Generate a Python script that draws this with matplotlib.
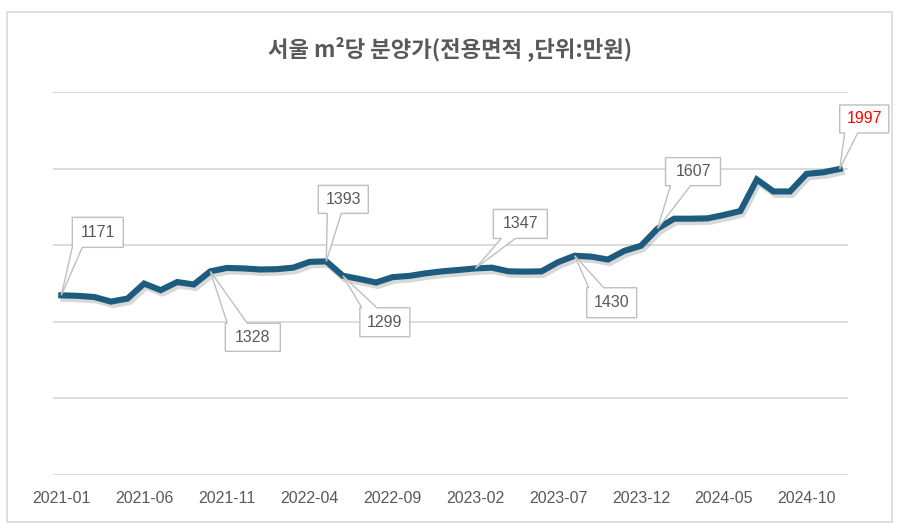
import matplotlib
matplotlib.use('Agg')
import matplotlib.pyplot as plt
import matplotlib.patheffects as pe
from matplotlib.patches import Polygon, Rectangle
from matplotlib.transforms import IdentityTransform

plt.rcParams['font.family'] = ['Noto Sans CJK KR', 'DejaVu Sans']

# 월별 분양가 (2021-01 ~ 2024-12)
months = [f'{y}-{m:02d}' for y in range(2021, 2025) for m in range(1, 13)]
price = [1171, 1168, 1160, 1130, 1150, 1248, 1205, 1258, 1242, 1328,
         1350, 1347, 1340, 1342, 1352, 1390, 1393, 1299, 1278, 1255,
         1290, 1298, 1315, 1328, 1337, 1347, 1352, 1328, 1326, 1328,
         1388, 1430, 1424, 1405, 1462, 1495, 1607, 1672, 1672, 1674,
         1696, 1722, 1928, 1850, 1850, 1965, 1975, 1997]
label_idx = [0, 9, 16, 17, 25, 31, 36, 47]
title = '서울 m²당 분양가(전용면적 ,단위:만원)'

# 말풍선 배치 (dx, dy, w, h, 꼬리 방향, 꼬리 시작, 꼬리 끝) - 픽셀
callouts = {
    0: (36.5, 63, 51, 30, 'bottom', 0, 10),
    9: (42.5, -66, 55, 28, 'top', 2, 22),
    16: (17, 62, 50, 28, 'bottom', 9, 23),
    17: (42, -46.5, 50, 29, 'top', 2, 17),
    25: (45, 44.5, 54, 29, 'bottom', 8, 22),
    31: (37, -47, 50, 30, 'top', 2, 17),
    36: (35.5, 57, 55, 28, 'bottom', 5, 25),
    47: (24.5, 50, 49, 28, 'bottom', 5, 18),
}

gray = '#595959'
grid_c = '#d9d9d9'
line_c = '#1d5c7e'
num_font = ['Liberation Sans', 'DejaVu Sans']

fig = plt.figure(figsize=(9, 5.3), dpi=100)
fig.add_artist(Rectangle((0.0078, 0.015), 0.983, 0.962, transform=fig.transFigure,
                         fill=False, edgecolor=grid_c, lw=1.2))
fig.text(0.5, 0.908, title, ha='center', va='center', fontsize=16,
         fontweight='bold', color=gray)

ax = fig.add_axes([0.0589, 0.1047, 0.8833, 0.7217])
x = list(range(len(price)))
ax.plot(x, price, color=line_c, lw=4.4, solid_joinstyle='miter', zorder=3,
        path_effects=[pe.SimpleLineShadow(offset=(1.5, -2.5), shadow_color='gray', alpha=0.3),
                      pe.Normal()])
ax.set_xlim(-0.5, len(price) - 0.5)
ax.set_ylim(0, 2500)
ax.set_yticks(range(0, 2501, 500))
ax.yaxis.grid(True, color=grid_c, lw=1.3)
ax.tick_params(axis='y', length=0, labelleft=False)
ax.set_xticks(x[::5])
ax.set_xticklabels(months[::5], fontsize=11.5, color=gray, family=num_font)
ax.tick_params(axis='x', length=0, pad=12)
for s in ax.spines.values():
    s.set_visible(False)
ax.set_axisbelow(True)

# 데이터 레이블 말풍선
for i in label_idx:
    dx, dy, w, h, side, b0, b1 = callouts[i]
    px, py = ax.transData.transform((x[i], price[i]))
    cx, cy = px + dx, py + dy
    x0, x1 = cx - w / 2, cx + w / 2
    y0, y1 = cy - h / 2, cy + h / 2
    if side == 'bottom':
        verts = [(x0, y1), (x1, y1), (x1, y0), (x0 + b1, y0), (px, py), (x0 + b0, y0), (x0, y0)]
    else:
        verts = [(x0, y0), (x1, y0), (x1, y1), (x0 + b1, y1), (px, py), (x0 + b0, y1), (x0, y1)]
    fig.add_artist(Polygon(verts, closed=True, facecolor='white', edgecolor='#bfbfbf',
                           lw=1.0, transform=IdentityTransform(), zorder=5))
    fig.text(cx, cy, str(price[i]), transform=IdentityTransform(), ha='center', va='center',
             fontsize=11.5, family=num_font, color='#ff0000' if i == len(price) - 1 else gray,
             zorder=6)

fig.savefig('out.png', dpi=100)
